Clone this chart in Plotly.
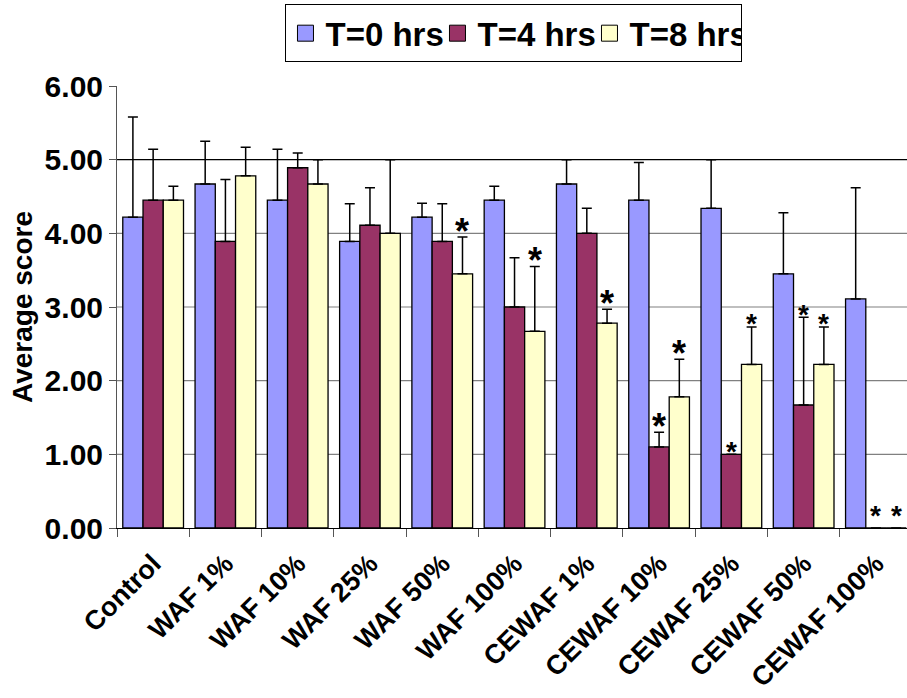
import plotly.graph_objects as go

categories = ["Control", "WAF 1%", "WAF 10%", "WAF 25%", "WAF 50%", "WAF 100%",
              "CEWAF 1%", "CEWAF 10%", "CEWAF 25%", "CEWAF 50%", "CEWAF 100%"]
series_names = ["T=0 hrs", "T=4 hrs", "T=8 hrs"]

t0 = [4.22, 4.67, 4.45, 3.89, 4.22, 4.45, 4.67, 4.45, 4.34, 3.45, 3.11]
t4 = [4.45, 3.89, 4.89, 4.11, 3.89, 3.00, 4.00, 1.10, 1.00, 1.67, 0.00]
t8 = [4.45, 4.78, 4.67, 4.00, 3.45, 2.67, 2.78, 1.78, 2.22, 2.22, 0.00]

t0_err = [1.36, 0.58, 0.69, 0.51, 0.19, 0.19, 0.33, 0.51, 0.66, 0.83, 1.51]
t4_err = [0.69, 0.84, 0.20, 0.51, 0.51, 0.67, 0.34, 0.20, 0.00, 1.19, 0.00]
t8_err = [0.19, 0.39, 0.33, 1.00, 0.50, 0.88, 0.19, 0.51, 0.51, 0.51, 0.00]

# significance markers: 0 none, 1 large star, 2 small star
t0_star = [0] * 11
t4_star = [0, 0, 0, 0, 0, 0, 0, 1, 2, 2, 2]
t8_star = [0, 0, 0, 0, 1, 1, 1, 1, 2, 2, 2]

y_ticks = [0, 1, 2, 3, 4, 5, 6]
y_tick_labels = ["0.00", "1.00", "2.00", "3.00", "4.00", "5.00", "6.00"]
grid_values = [1, 2, 3, 4, 5]

colors = ["#9999FF", "#993366", "#FFFFCC"]
FONT = "Arial, 'Liberation Sans', sans-serif"

W, H = 907, 698
ML, MR, MT, MB = 117, 0, 86, 170
BARGAP = 0.16
X_RANGE = [-0.5, 10.43]

values = [t0, t4, t8]
errs = [t0_err, t4_err, t8_err]
stars = [t0_star, t4_star, t8_star]

fig = go.Figure()
for name, vals, err, col in zip(series_names, values, errs, colors):
    fig.add_trace(go.Bar(
        name=name, x=categories, y=vals, legendgroup=name, showlegend=False,
        marker=dict(color=col, line=dict(color="black", width=1.3)),
        error_y=dict(type="data", symmetric=False, array=err,
                     arrayminus=[0] * len(err), color="black",
                     thickness=1.5, width=5),
    ))
# legend keys with larger square swatches
for name, col in zip(series_names, colors):
    fig.add_trace(go.Scatter(
        name=name, x=[None], y=[None], mode="markers", legendgroup=name,
        marker=dict(symbol="square", size=16, color=col,
                    line=dict(color="black", width=1)),
    ))

# stars
plot_w = W - ML - MR
cat_px = plot_w / (X_RANGE[1] - X_RANGE[0])
bar_px = cat_px * (1 - BARGAP) / 3
annotations = []
for s, (vals, err, st) in enumerate(zip(values, errs, stars)):
    for i, flag in enumerate(st):
        if not flag:
            continue
        top = vals[i] + err[i]
        big = flag == 1
        annotations.append(dict(
            x=categories[i], y=top, xref="x", yref="y",
            text="*", showarrow=False,
            xshift=(s - 1) * bar_px,
            yanchor="middle",
            yshift=(6 if big else 3) + (10 if top == 0 else 0),
            font=dict(family=FONT, size=36 if big else 28, color="black",
                      weight="bold"),
        ))

shapes = []
for g in grid_values:
    shapes.append(dict(type="line", xref="paper", yref="y", x0=0, x1=1,
                       y0=g, y1=g, layer="below",
                       line=dict(color="black" if g == 5 else "#808080", width=1.2)))

fig.update_layout(
    width=W, height=H,
    margin=dict(l=ML, r=MR, t=MT, b=MB, pad=0, autoexpand=False),
    paper_bgcolor="white", plot_bgcolor="white",
    barmode="group", bargap=BARGAP, bargroupgap=0,
    font=dict(family=FONT, color="black"),
    showlegend=True,
    legend=dict(orientation="h", x=0.5025, xanchor="center",
                y=1.185, yanchor="top",
                bordercolor="black", borderwidth=1, bgcolor="white",
                font=dict(family=FONT, size=33, color="black", weight="bold"),
                itemwidth=30, tracegroupgap=0, entrywidth=107,
                entrywidthmode="pixels"),
    annotations=annotations,
    shapes=shapes,
    xaxis=dict(range=X_RANGE, tickangle=-45, tickson="boundaries",
               ticks="outside", ticklen=8, tickcolor="#555555",
               ticklabelstandoff=8, automargin=False,
               showline=True, linecolor="black", linewidth=1,
               showgrid=False, zeroline=False,
               tickfont=dict(family=FONT, size=27, color="black", weight="bold")),
    yaxis=dict(range=[0, 6], tickvals=y_ticks, ticktext=y_tick_labels,
               ticks="outside", ticklen=7, tickcolor="#555555",
               automargin=False,
               showline=True, linecolor="#555555", linewidth=1,
               showgrid=False, zeroline=False,
               tickfont=dict(family=FONT, size=30, color="black", weight="bold")),
)
fig.add_annotation(text="Average score", xref="paper", yref="paper",
                   x=-(ML - 22) / plot_w, y=0.5, textangle=-90, showarrow=False,
                   xanchor="center", yanchor="middle",
                   font=dict(family=FONT, size=28, color="black", weight="bold"))

fig.write_html("out.html")
